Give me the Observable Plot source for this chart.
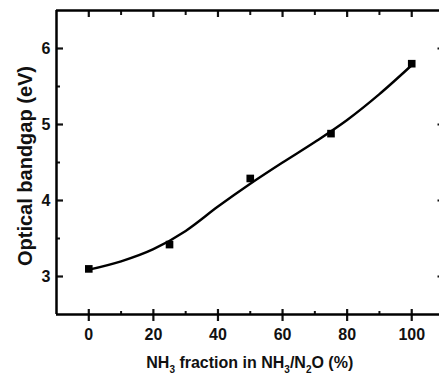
<!DOCTYPE html>
<html><head><meta charset="utf-8">
<script src="https://cdn.jsdelivr.net/npm/d3@7"></script>
<script src="https://cdn.jsdelivr.net/npm/@observablehq/plot@0.6"></script>
<style>body{margin:0;background:#fff} svg{display:block}</style>
</head><body><div id="chart"></div>
<script>
// measured points
const fraction = [0, 25, 50, 75, 100];
const bandgap = [3.10, 3.42, 4.29, 4.88, 5.80];
// fitted curve
const fitX = [0, 10, 20, 30, 40, 50, 60, 70, 80, 90, 100];
const fitY = [3.09, 3.20, 3.36, 3.60, 3.92, 4.22, 4.50, 4.77, 5.06, 5.40, 5.78];
// axes
const xDomain = [-10, 108.6];
const yDomain = [2.5, 6.5];
const xMajor = [0, 20, 40, 60, 80, 100];
const xMinor = [10, 30, 50, 70, 90];
const yMajor = [3, 4, 5, 6];
const yMinor = [3.5, 4.5, 5.5];

const points = fraction.map((f, i) => ({f, e: bandgap[i]}));
const fit = fitX.map((f, i) => ({f, e: fitY[i]}));
const blank = () => "";

const chart = Plot.plot({
  width: 439, height: 376,
  marginLeft: 56, marginTop: 10, marginBottom: 62, marginRight: 0,
  style: {fontFamily: "'Liberation Sans', Arial, sans-serif", fontSize: "16px", fontWeight: "bold", color: "#111", background: "#fff"},
  x: {domain: xDomain},
  y: {domain: yDomain},
  marks: [
    // bottom
    Plot.axisX(xMajor, {anchor: "bottom", tickSize: 7, tickPadding: 7, strokeWidth: 2.2, label: null}),
    Plot.axisX(xMajor, {anchor: "bottom", tickSize: -5, strokeWidth: 2.2, tickFormat: blank, label: null}),
    Plot.axisX(xMinor, {anchor: "bottom", tickSize: -3, strokeWidth: 2, tickFormat: blank, label: null}),
    // top
    Plot.axisX(xMajor, {anchor: "top", tickSize: -6, strokeWidth: 2.2, tickFormat: blank, label: null}),
    Plot.axisX(xMinor, {anchor: "top", tickSize: -4, strokeWidth: 2, tickFormat: blank, label: null}),
    // left
    Plot.axisY(yMajor, {anchor: "left", tickSize: 0, tickPadding: 6, tickFormat: "d", label: null}),
    Plot.axisY(yMajor, {anchor: "left", tickSize: -7, strokeWidth: 2.2, tickFormat: blank, label: null}),
    Plot.axisY(yMinor, {anchor: "left", tickSize: -4, strokeWidth: 2, tickFormat: blank, label: null}),
    // right (frame edge lies just outside the picture)
    Plot.axisY(yMajor, {anchor: "right", tickSize: -2.5, strokeWidth: 2, tickFormat: blank, label: null}),
    // axis lines: left, top, bottom
    Plot.ruleX([xDomain[0]], {stroke: "black", strokeWidth: 2.5}),
    Plot.ruleY(yDomain, {stroke: "black", strokeWidth: 2.5}),
    Plot.line(fit, {x: "f", y: "e", curve: "monotone-x", stroke: "black", strokeWidth: 2.4}),
    Plot.dot(points, {x: "f", y: "e", symbol: "square", r: 4.3, fill: "black", stroke: "none"})
  ]
});
document.getElementById("chart").appendChild(chart);

const svg = d3.select(chart);
const xs = chart.scale("x"), ys = chart.scale("y");
svg.append("text")
  .attr("transform", `translate(32,${(ys.apply(yDomain[0]) + ys.apply(yDomain[1])) / 2 + 4}) rotate(-90)`)
  .attr("text-anchor", "middle")
  .attr("font-size", 20).attr("font-weight", "bold").attr("fill", "#111")
  .attr("font-family", "'Liberation Sans', Arial, sans-serif")
  .text("Optical bandgap (eV)");

const xl = svg.append("text")
  .attr("x", xs.apply(50)).attr("y", 368)
  .attr("text-anchor", "middle")
  .attr("font-size", 16).attr("font-weight", "bold").attr("fill", "#111")
  .attr("font-family", "'Liberation Sans', Arial, sans-serif");
const parts = [["NH", 0], ["3", 1], [" fraction in NH", 0], ["3", 1], ["/N", 0], ["2", 1], ["O (%)", 0]];
let shifted = false;
for (const [t, sub] of parts) {
  const ts = xl.append("tspan").text(t);
  if (sub) { ts.attr("dy", 5).attr("font-size", 10); shifted = true; }
  else if (shifted) { ts.attr("dy", -5); shifted = false; }
}
</script>
</body></html>
